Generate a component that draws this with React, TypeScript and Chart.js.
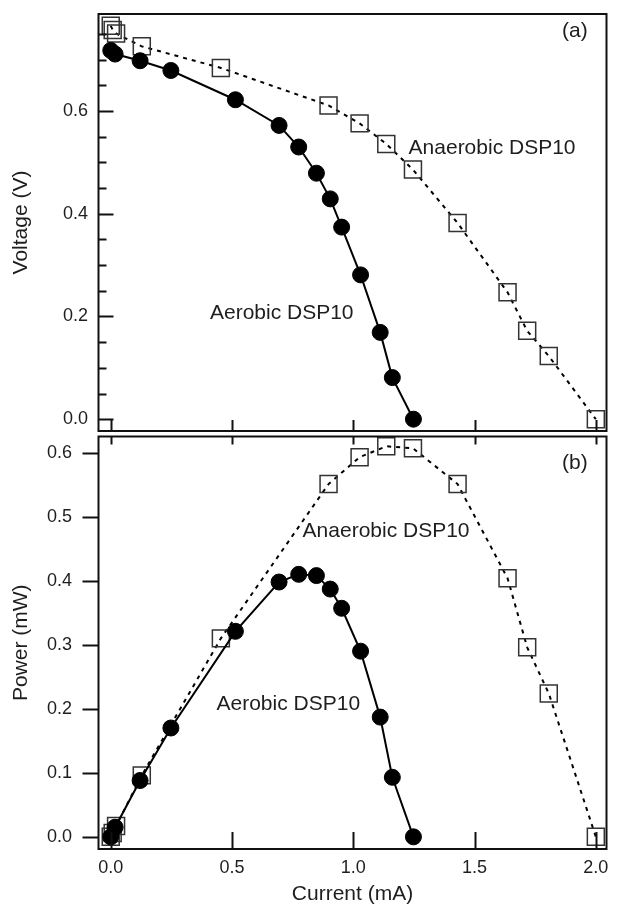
import React, { useEffect, useRef } from 'react';
import { Chart, registerables } from 'chart.js';

Chart.register(...registerables);

// ---- data ----
const aerobicCurrent = [0.0, 0.018, 0.121, 0.248, 0.514, 0.694, 0.775, 0.848, 0.905, 0.952, 1.030, 1.111, 1.161, 1.248];
const aerobicVoltage = [0.718, 0.711, 0.698, 0.679, 0.622, 0.572, 0.530, 0.479, 0.429, 0.374, 0.281, 0.169, 0.081, 0.0];
const aerobicPower = [0.0, 0.015, 0.088, 0.170, 0.321, 0.398, 0.410, 0.408, 0.387, 0.357, 0.290, 0.187, 0.093, 0.0];

const anaerobicCurrent = [0.0, 0.008, 0.022, 0.128, 0.454, 0.898, 1.026, 1.136, 1.246, 1.430, 1.636, 1.717, 1.806, 2.0];
const anaerobicVoltage = [0.766, 0.758, 0.751, 0.726, 0.684, 0.611, 0.576, 0.536, 0.486, 0.382, 0.247, 0.172, 0.123, 0.0];
const anaerobicPower = [0.0, 0.006, 0.017, 0.096, 0.310, 0.551, 0.593, 0.610, 0.607, 0.551, 0.404, 0.296, 0.224, 0.0];

const currentTicks = [0.0, 0.5, 1.0, 1.5, 2.0];
const voltageTicks = [0.0, 0.2, 0.4, 0.6];
const voltageMinorTicks = [0.05, 0.1, 0.15, 0.25, 0.3, 0.35, 0.45, 0.5, 0.55, 0.65, 0.7, 0.75];
const powerTicks = [0.0, 0.1, 0.2, 0.3, 0.4, 0.5, 0.6];

const seriesNames = ['Aerobic DSP10', 'Anaerobic DSP10'];
const panelTags = ['(a)', '(b)'];

const FONT = '"Liberation Sans", Arial, Helvetica, sans-serif';
const TEXT = '#1e1e1e';

type TickSpec = { axis: 'x' | 'y'; values: number[]; side?: 'top' | 'bottom'; length: number };
type LabelSpec = { text: string; x: number; y: number };

function zeroPadding(s: any) {
  s.paddingLeft = 0;
  s.paddingRight = 0;
  s.paddingTop = 0;
  s.paddingBottom = 0;
}

function makeFramePlugin(ticks: TickSpec[], labels: LabelSpec[]) {
  return {
    id: 'frameAndMarks',
    afterDraw(chart: any) {
      const { ctx, chartArea: a, scales } = chart;
      ctx.save();
      ctx.strokeStyle = '#111';
      ctx.lineWidth = 2;
      ctx.strokeRect(a.left, a.top, a.right - a.left, a.bottom - a.top);
      for (const t of ticks) {
        for (const v of t.values) {
          ctx.beginPath();
          if (t.axis === 'y') {
            const y = Math.round(scales.y.getPixelForValue(v)) + 0.5;
            ctx.moveTo(a.left, y);
            ctx.lineTo(a.left + t.length, y);
          } else {
            const x = Math.round(scales.x.getPixelForValue(v)) + 0.5;
            const y0 = t.side === 'top' ? a.top : a.bottom;
            ctx.moveTo(x, y0);
            ctx.lineTo(x, y0 + t.length);
          }
          ctx.stroke();
        }
      }
      ctx.fillStyle = TEXT;
      ctx.font = '21px ' + FONT;
      ctx.textAlign = 'left';
      ctx.textBaseline = 'middle';
      for (const l of labels) {
        ctx.fillText(l.text, scales.x.getPixelForValue(l.x), scales.y.getPixelForValue(l.y));
      }
      ctx.restore();
    },
  };
}

function datasetsFor(aY: number[], nY: number[]) {
  return [
    {
      label: seriesNames[0],
      data: aerobicCurrent.map((c, i) => ({ x: c, y: aY[i] })),
      borderColor: '#000',
      borderWidth: 2,
      pointStyle: 'circle',
      pointRadius: 8,
      pointBackgroundColor: '#000',
      pointBorderColor: '#000',
      pointBorderWidth: 1,
      tension: 0,
      clip: false,
    },
    {
      label: seriesNames[1],
      data: anaerobicCurrent.map((c, i) => ({ x: c, y: nY[i] })),
      borderColor: '#000',
      borderWidth: 2,
      borderDash: [4, 5],
      pointStyle: 'rect',
      pointRadius: 12,
      pointBackgroundColor: 'rgba(0,0,0,0)',
      pointBorderColor: '#333',
      pointBorderWidth: 1.5,
      tension: 0,
      clip: false,
    },
  ];
}

const X_MIN = -0.0505;
const X_MAX = 2.044;

function TopPanel() {
  const ref = useRef<HTMLCanvasElement>(null);
  useEffect(() => {
    const chart = new Chart(ref.current as HTMLCanvasElement, {
      type: 'line',
      data: { datasets: datasetsFor(aerobicVoltage, anaerobicVoltage) as any },
      options: {
        responsive: false,
        animation: false,
        events: [],
        layout: { padding: { left: 0, top: 14, right: 3, bottom: 14 } },
        plugins: { legend: { display: false }, tooltip: { enabled: false } },
        scales: {
          x: { type: 'linear', min: X_MIN, max: X_MAX, display: false, afterFit: (s: any) => { s.height = 0; zeroPadding(s); } },
          y: {
            type: 'linear',
            min: -0.023,
            max: 0.789,
            afterBuildTicks: (s: any) => { s.ticks = voltageTicks.map((v) => ({ value: v })); },
            afterFit: (s: any) => { s.width = 98.5; zeroPadding(s); },
            grid: { display: false, drawTicks: false },
            border: { display: false },
            ticks: { padding: 10.5, color: TEXT, font: { size: 18, family: FONT }, callback: (v: any) => Number(v).toFixed(1) },
            title: { display: true, text: 'Voltage (V)', color: TEXT, font: { size: 21, family: FONT }, padding: { top: 9, bottom: 0 } },
          },
        },
      } as any,
      plugins: [
        makeFramePlugin(
          [
            { axis: 'y', values: voltageTicks, length: 15 },
            { axis: 'y', values: voltageMinorTicks, length: 8 },
            { axis: 'x', values: currentTicks, side: 'bottom', length: -11 },
          ],
          [
            { text: panelTags[0], x: 1.861, y: 0.755 },
            { text: seriesNames[1], x: 1.228, y: 0.528 },
            { text: seriesNames[0], x: 0.409, y: 0.207 },
          ],
        ),
      ],
    });
    return () => chart.destroy();
  }, []);
  return <canvas ref={ref} width={620} height={445} style={{ position: 'absolute', left: 0, top: 0, display: 'block' }} />;
}

function BottomPanel() {
  const ref = useRef<HTMLCanvasElement>(null);
  useEffect(() => {
    const chart = new Chart(ref.current as HTMLCanvasElement, {
      type: 'line',
      data: { datasets: datasetsFor(aerobicPower, anaerobicPower) as any },
      options: {
        responsive: false,
        animation: false,
        events: [],
        layout: { padding: { left: 0, top: 10, right: 3, bottom: 0 } },
        plugins: { legend: { display: false }, tooltip: { enabled: false } },
        scales: {
          x: {
            type: 'linear',
            min: X_MIN,
            max: X_MAX,
            afterBuildTicks: (s: any) => { s.ticks = currentTicks.map((v) => ({ value: v })); },
            afterFit: (s: any) => { s.height = 56; zeroPadding(s); },
            grid: { display: false, drawTicks: false },
            border: { display: false },
            ticks: { padding: 8, color: TEXT, font: { size: 18, family: FONT }, maxRotation: 0, autoSkip: false, callback: (v: any) => Number(v).toFixed(1) },
            title: { display: true, text: 'Current (mA)', color: TEXT, font: { size: 21, family: FONT }, padding: { top: 0, bottom: -2 } },
          },
          y: {
            type: 'linear',
            min: -0.019,
            max: 0.6253,
            afterBuildTicks: (s: any) => { s.ticks = powerTicks.map((v) => ({ value: v })); },
            afterFit: (s: any) => { s.width = 98.5; zeroPadding(s); },
            grid: { display: false, drawTicks: false },
            border: { display: false },
            ticks: { padding: 26.5, color: TEXT, font: { size: 18, family: FONT }, callback: (v: any) => Number(v).toFixed(1) },
            title: { display: true, text: 'Power (mW)', color: TEXT, font: { size: 21, family: FONT }, padding: { top: 9, bottom: 0 } },
          },
        },
      } as any,
      plugins: [
        makeFramePlugin(
          [
            { axis: 'y', values: powerTicks, length: -16 },
            { axis: 'x', values: currentTicks, side: 'bottom', length: -17 },
            { axis: 'x', values: currentTicks, side: 'top', length: 8 },
          ],
          [
            { text: panelTags[1], x: 1.861, y: 0.583 },
            { text: seriesNames[1], x: 0.791, y: 0.478 },
            { text: seriesNames[0], x: 0.436, y: 0.207 },
          ],
        ),
      ],
    });
    return () => chart.destroy();
  }, []);
  return <canvas ref={ref} width={620} height={482} style={{ position: 'absolute', left: 0, top: 423, display: 'block' }} />;
}

export default function App() {
  return (
    <div style={{ position: 'absolute', left: 0, top: 0, width: 620, height: 905, background: '#fff' }}>
      <TopPanel />
      <BottomPanel />
    </div>
  );
}
